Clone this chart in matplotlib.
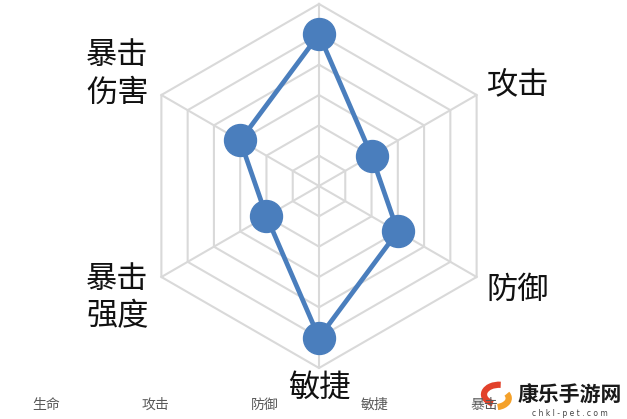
import numpy as np
import matplotlib
matplotlib.use("Agg")
import matplotlib.pyplot as plt
from matplotlib import patches

plt.rcParams['font.family'] = ['Noto Sans CJK SC', 'DejaVu Sans']

# ---- data ----
categories = ['生命', '攻击', '防御', '敏捷', '暴击强度', '暴击伤害']
axis_labels = ['生命', '攻击', '防御', '敏捷', '暴击\n强度', '暴击\n伤害']
values = [5, 2, 3, 5, 2, 3]
r_max = 6
bottom_labels = ['生命', '攻击', '防御', '敏捷', '暴击']
watermark_name = '康乐手游网'
watermark_url = 'c h k l - p e t . c o m'

W, H = 627, 419
fig = plt.figure(figsize=(W / 100, H / 100), dpi=100)
fig.patch.set_facecolor('white')

cx, cy, R = 319, 186, 182
ax = fig.add_axes([(cx - R) / W, (H - cy - R) / H, 2 * R / W, 2 * R / H], projection='polar')
ax.set_theta_offset(np.pi / 2)
ax.set_theta_direction(-1)
ax.set_ylim(0, r_max)
ax.axis('off')

n = len(categories)
angles = np.arange(n) * 2 * np.pi / n
ang_closed = np.append(angles, angles[0])

grid_color = '#d9d9d9'
for r in range(1, r_max + 1):
    ax.plot(ang_closed, [r] * (n + 1), color=grid_color, lw=1.5, zorder=1, clip_on=False)
for a in angles:
    ax.plot([a, a], [0, r_max], color=grid_color, lw=1.5, zorder=1, clip_on=False)

blue = '#4a7ebd'
vals_closed = np.append(values, values[0])
ax.plot(ang_closed, vals_closed, color=blue, lw=3.4, zorder=3, clip_on=False)
ax.plot(angles, values, linestyle='none', marker='o', ms=23, mfc=blue, mec=blue,
        zorder=4, clip_on=False)

# axis labels (top one is outside the visible area)
offsets = {1: (29.5, 8), 2: (29.5, -9.4), 3: (0, -14.4), 4: (-31.7, -15), 5: (-31.7, 15)}
for i, (dx, dy) in offsets.items():
    ax.annotate(axis_labels[i], xy=(angles[i], r_max), xytext=(dx, dy),
                textcoords='offset points', ha='center', va='center',
                fontsize=22.5, color='#111111', linespacing=1.22,
                annotation_clip=False, zorder=5)

# faint category row from a chart below
for i, lab in enumerate(bottom_labels):
    fig.text((46 + i * 109.5) / W, 1 - 405 / H, lab, ha='center', va='center',
             fontsize=10, color='#595959')

# watermark logo
lax = fig.add_axes([478 / W, 1 - 411 / H, 36 / W, 30 / H])
lax.set_xlim(-1.2, 1.2)
lax.set_ylim(-1, 1)
lax.set_aspect('equal')
lax.axis('off')
lax.add_patch(patches.Arc((0.2, 0.1), 2.0, 1.3, theta1=80, theta2=235, lw=4.5, color='#e2412a'))
lax.add_patch(patches.Arc((-0.1, -0.15), 1.9, 1.2, theta1=290, theta2=20, lw=4.5, color='#f4a12a'))

fig.text(570 / W, 1 - 395 / H, watermark_name, ha='center', va='center',
         fontsize=15, fontweight='bold', color='#1a1a1a')
fig.text(570 / W, 1 - 413 / H, watermark_url, ha='center', va='center',
         fontsize=5.5, color='#444444', family=['DejaVu Sans'])

fig.savefig('out.png', dpi=100, facecolor='white')
